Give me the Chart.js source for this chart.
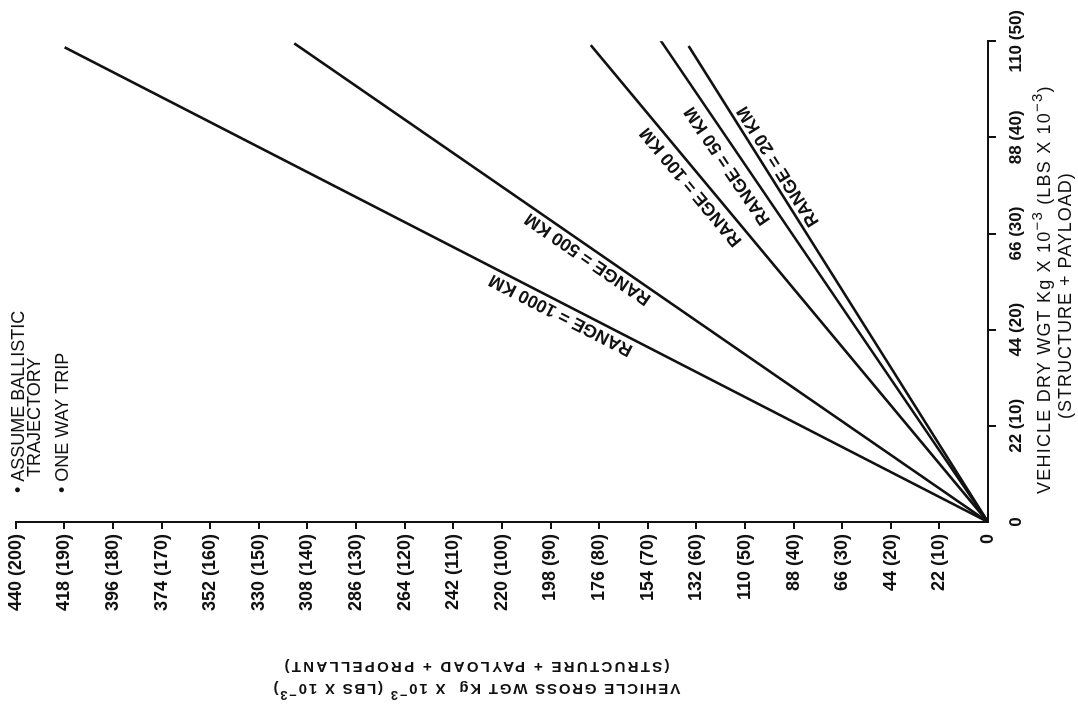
<!DOCTYPE html>
<html><head><meta charset="utf-8">
<script src="https://cdn.jsdelivr.net/npm/chart.js@4.4.1/dist/chart.umd.min.js"></script>
<style>
html,body{margin:0;padding:0;background:#fff;overflow:hidden;width:1078px;height:704px;}
#wrap{position:absolute;left:187px;top:-187px;width:704px;height:1078px;transform:rotate(-90deg);transform-origin:50% 50%;background:#fff;}
canvas{display:block;}
</style></head><body>
<div id="wrap"><canvas id="c" width="704" height="1078"></canvas></div>
<script>
// ---- data ----
const rangeNames = ['RANGE = 1000 KM', 'RANGE = 500 KM', 'RANGE = 100 KM', 'RANGE = 50 KM', 'RANGE = 20 KM'];
const dryWgtEnd = [108.6, 109.5, 109.1, 110.2, 108.9];      // Kg x 10^-3 at line end
const grossWgtEnd = [417.9, 314.0, 179.8, 148.2, 135.5];    // Kg x 10^-3 at line end
const dryTicksKg = [0, 22, 44, 66, 88, 110];
const dryTicksLbs = [0, 10, 20, 30, 40, 50];
const grossTicksKg = [0, 22, 44, 66, 88, 110, 132, 154, 176, 198, 220, 242, 264, 286, 308, 330, 352, 374, 396, 418, 440];
const grossTicksLbs = [0, 10, 20, 30, 40, 50, 60, 70, 80, 90, 100, 110, 120, 130, 140, 150, 160, 170, 180, 190, 200];
const dryTitle1 = [['VEHICLE DRY WGT Kg X 10', 0], ['−3', 1], [' (LBS X 10', 0], ['−3', 1], [')', 0]];
const dryTitle2 = [['(STRUCTURE + PAYLOAD)', 0]];
const grossTitle1 = [['VEHICLE GROSS WGT Kg  X 10', 0], ['−3', 1], [' (LBS X 10', 0], ['−3', 1], [')', 0]];
const grossTitle2 = [['(STRUCTURE + PAYLOAD + PROPELLANT)', 0]];
const notes = ['• ASSUME BALLISTIC', 'TRAJECTORY', '• ONE WAY TRIP'];

// ---- label placement (style) ----
const labelAlong = [0.457, 0.568, 0.721, 0.757, 0.734];
const labelOffset = [11, 10.5, 13.5, 15, -12];

const FAM = '"Liberation Sans", Arial, Helvetica, sans-serif';
const INK = '#111';

function tickLabel(kgArr, lbsArr) {
  return function (v) {
    const i = kgArr.indexOf(v);
    if (v === 0) return '0';
    return v + ' (' + lbsArr[i] + ')';
  };
}

function drawRich(ctx, segs, cx, cy, size, spacing, weight) {
  const wt = weight ? weight + ' ' : '';
  const f = wt + size + 'px ' + FAM, sf = wt + Math.round(size * 0.85) + 'px ' + FAM;
  ctx.letterSpacing = spacing + 'px';
  let w = 0;
  const ws = segs.map(s => { ctx.font = s[1] ? sf : f; const m = ctx.measureText(s[0]).width; w += m; return m; });
  let x = cx - w / 2;
  ctx.textAlign = 'left'; ctx.textBaseline = 'middle';
  segs.forEach((s, i) => { ctx.font = s[1] ? sf : f; ctx.fillText(s[0], x, cy - (s[1] ? size * 0.42 : 0)); x += ws[i]; });
  ctx.letterSpacing = '0px';
}

const annot = {
  id: 'annot',
  afterDraw(chart) {
    const { ctx, chartArea: a, scales: { x, y } } = chart;
    ctx.save();
    ctx.fillStyle = INK;
    // range labels along each line
    rangeNames.forEach((txt, i) => {
      const x0 = x.getPixelForValue(0), y0 = y.getPixelForValue(0);
      const x1 = x.getPixelForValue(dryWgtEnd[i]), y1 = y.getPixelForValue(grossWgtEnd[i]);
      const dx = x1 - x0, dy = y1 - y0, L = Math.hypot(dx, dy);
      const ux = dx / L, uy = dy / L, nx = uy, ny = -ux;
      const t = labelAlong[i] * L, o = labelOffset[i];
      ctx.save();
      ctx.translate(x0 + ux * t + nx * o, y0 + uy * t + ny * o);
      ctx.rotate(Math.atan2(dy, dx));
      ctx.font = 'bold 18px ' + FAM;
      ctx.textAlign = 'center'; ctx.textBaseline = 'middle';
      ctx.fillText(txt, 0, 0);
      ctx.restore();
    });
    // x (dry) title
    const cxm = (x.left + x.right) / 2 - 8;
    drawRich(ctx, dryTitle1, cxm, x.top + 57, 18, 1.2);
    drawRich(ctx, dryTitle2, cxm - 6, x.top + 78, 18, 1.0);
    // y (gross) title, rotated
    ctx.save();
    ctx.translate(0, (y.top + y.bottom) / 2 - 26);
    ctx.rotate(-Math.PI / 2);
    drawRich(ctx, grossTitle1, 0, 16, 15, 1.8, '600');
    drawRich(ctx, grossTitle2, 0, 38, 15, 2.3, '600');
    ctx.restore();
    // notes
    ctx.font = '18px ' + FAM;
    ctx.textAlign = 'left'; ctx.textBaseline = 'middle';
    ctx.fillText(notes[0], a.left + 29, a.top + 3);
    ctx.fillText(notes[1], a.left + 45, a.top + 19);
    ctx.fillText(notes[2], a.left + 29, a.top + 47);
    ctx.restore();
  }
};

const datasets = rangeNames.map((n, i) => ({
  label: n,
  data: [{ x: 0, y: 0 }, { x: dryWgtEnd[i], y: grossWgtEnd[i] }],
  showLine: true, borderColor: INK, borderWidth: 2.6, pointRadius: 0, fill: false, tension: 0
}));

const tickColor = c => (c.tick && c.tick.value === 0) ? 'rgba(0,0,0,0)' : INK;

new Chart(document.getElementById('c'), {
  type: 'scatter',
  data: { datasets },
  plugins: [annot],
  options: {
    responsive: false, animation: false, devicePixelRatio: 1,
    layout: { padding: { top: 14, right: 36, left: 0, bottom: 0 } },
    plugins: { legend: { display: false }, tooltip: { enabled: false } },
    scales: {
      x: {
        type: 'linear', position: 'bottom', min: 0, max: 110,
        afterBuildTicks: s => { s.ticks = dryTicksKg.map(v => ({ value: v })); },
        afterFit: s => { s.height = 90; },
        grid: { drawOnChartArea: false, drawTicks: true, tickLength: 8, lineWidth: 2, color: tickColor },
        border: { display: true, color: INK, width: 2 },
        ticks: { autoSkip: false, maxRotation: 0, minRotation: 0, padding: 10, color: INK,
          font: { family: FAM, size: 17, weight: 'bold' }, callback: tickLabel(dryTicksKg, dryTicksLbs) }
      },
      y: {
        type: 'linear', position: 'left', min: 0, max: 440,
        afterBuildTicks: s => { s.ticks = grossTicksKg.map(v => ({ value: v })); },
        afterFit: s => { s.width = 182; },
        grid: { drawOnChartArea: false, drawTicks: true, tickLength: 7, lineWidth: 2, color: tickColor },
        border: { display: true, color: INK, width: 2 },
        ticks: { autoSkip: false, padding: 5, color: INK,
          font: { family: FAM, size: 18, weight: 'bold' }, callback: tickLabel(grossTicksKg, grossTicksLbs) }
      }
    }
  }
});
</script>
</body></html>
